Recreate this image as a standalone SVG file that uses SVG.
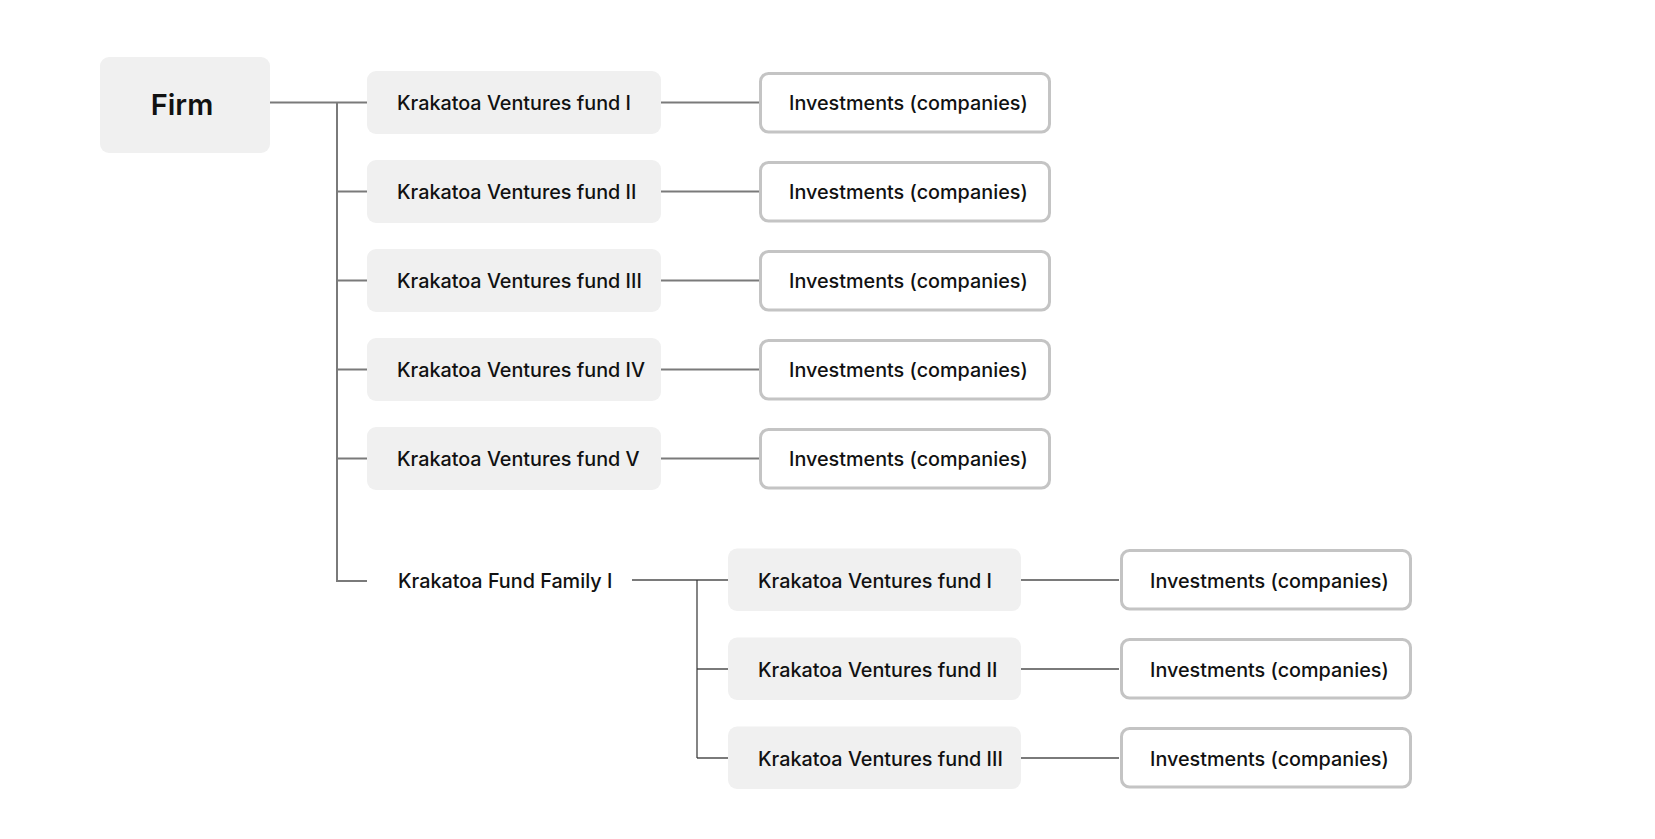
<svg xmlns="http://www.w3.org/2000/svg" width="1655" height="839" viewBox="0 0 1655 839">
<style>
.fund{fill:#f0f0f0}
.inv{fill:#ffffff;stroke:#c4c4c4;stroke-width:3}
.t{font-family:Inter,"Noto Sans","Liberation Sans",sans-serif;font-size:19.8px;font-weight:500;fill:#111111}
.firm{font-family:Inter,"Noto Sans","Liberation Sans",sans-serif;font-size:29px;font-weight:600;fill:#111111}
.c{stroke:#7a7a7a;stroke-width:2;fill:none}
.cs{stroke:#333333;stroke-width:1.2;fill:none}
</style>
<rect width="1655" height="839" fill="#ffffff"/>
<g id="connectors">
<path class="c" d="M270 102.5H367M337 102.5V581H367"/>
<path class="c" d="M337 191.5H367M337 280.5H367M337 369.5H367M337 458.5H367"/>
<path class="c" d="M661 102.5H759M661 191.5H759M661 280.5H759M661 369.5H759M661 458.5H759"/>
<path class="c" d="M632 580H728M697 669H728M697 758H728"/>
<path class="cs" d="M697 580V758"/>
<path class="c" d="M1021 580H1119M1021 669H1119M1021 758H1119"/>
</g>
<g id="firm">
<rect class="fund" x="100" y="57" width="170" height="96" rx="9"/>
<text class="firm" x="182" y="115" text-anchor="middle">Firm</text>
</g>
<g id="fund1"><rect class="fund" x="367" y="71" width="294" height="63" rx="9"/><text class="t" x="397" y="110">Krakatoa Ventures fund I</text></g>
<g id="fund2"><rect class="fund" x="367" y="160" width="294" height="63" rx="9"/><text class="t" x="397" y="199">Krakatoa Ventures fund II</text></g>
<g id="fund3"><rect class="fund" x="367" y="249" width="294" height="63" rx="9"/><text class="t" x="397" y="288">Krakatoa Ventures fund III</text></g>
<g id="fund4"><rect class="fund" x="367" y="338" width="294" height="63" rx="9"/><text class="t" x="397" y="377">Krakatoa Ventures fund IV</text></g>
<g id="fund5"><rect class="fund" x="367" y="427" width="294" height="63" rx="9"/><text class="t" x="397" y="466">Krakatoa Ventures fund V</text></g>
<g id="inv1"><rect class="inv" x="760.5" y="73.5" width="289" height="58.5" rx="8"/><text class="t" x="789" y="110">Investments (companies)</text></g>
<g id="inv2"><rect class="inv" x="760.5" y="162.5" width="289" height="58.5" rx="8"/><text class="t" x="789" y="199">Investments (companies)</text></g>
<g id="inv3"><rect class="inv" x="760.5" y="251.5" width="289" height="58.5" rx="8"/><text class="t" x="789" y="288">Investments (companies)</text></g>
<g id="inv4"><rect class="inv" x="760.5" y="340.5" width="289" height="58.5" rx="8"/><text class="t" x="789" y="377">Investments (companies)</text></g>
<g id="inv5"><rect class="inv" x="760.5" y="429.5" width="289" height="58.5" rx="8"/><text class="t" x="789" y="466">Investments (companies)</text></g>
<g id="family"><text class="t" x="398" y="587.5">Krakatoa Fund Family I</text></g>
<g id="sfund1"><rect class="fund" x="728" y="548.5" width="293" height="62.5" rx="9"/><text class="t" x="758" y="587.5">Krakatoa Ventures fund I</text></g>
<g id="sfund2"><rect class="fund" x="728" y="637.5" width="293" height="62.5" rx="9"/><text class="t" x="758" y="676.5">Krakatoa Ventures fund II</text></g>
<g id="sfund3"><rect class="fund" x="728" y="726.5" width="293" height="62.5" rx="9"/><text class="t" x="758" y="765.5">Krakatoa Ventures fund III</text></g>
<g id="sinv1"><rect class="inv" x="1121.5" y="550.5" width="289" height="58.5" rx="8"/><text class="t" x="1150" y="587.5">Investments (companies)</text></g>
<g id="sinv2"><rect class="inv" x="1121.5" y="639.5" width="289" height="58.5" rx="8"/><text class="t" x="1150" y="676.5">Investments (companies)</text></g>
<g id="sinv3"><rect class="inv" x="1121.5" y="728.5" width="289" height="58.5" rx="8"/><text class="t" x="1150" y="765.5">Investments (companies)</text></g>
</svg>
